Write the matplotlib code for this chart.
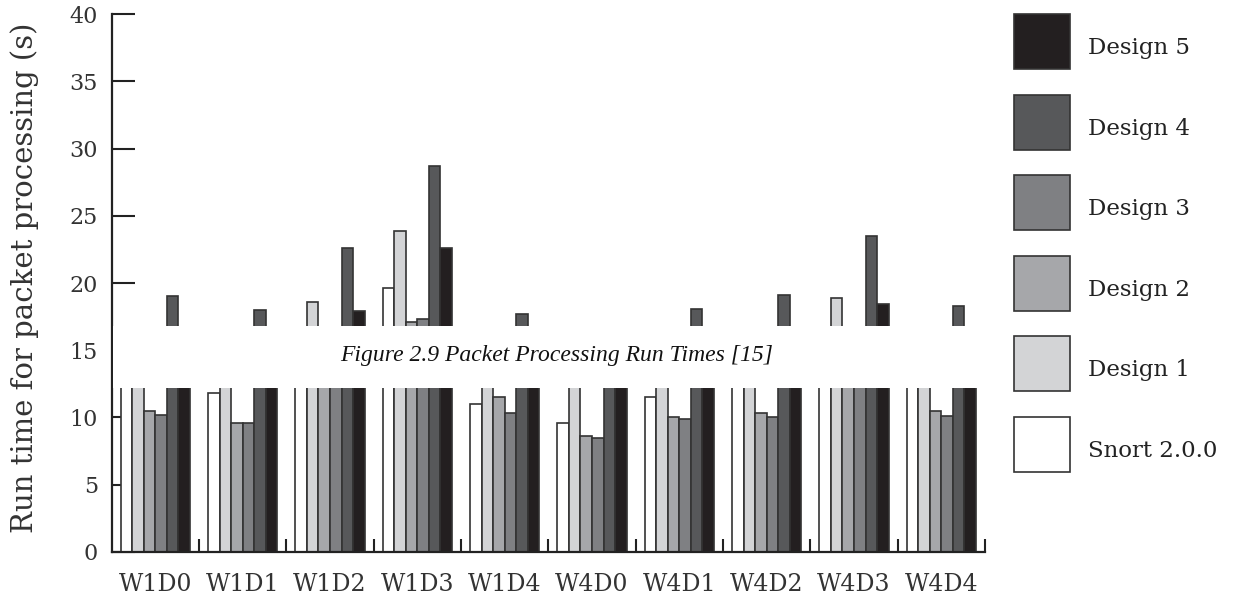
import matplotlib
matplotlib.use("Agg")
import matplotlib.pyplot as plt
from matplotlib.patches import Rectangle
import numpy as np

# data (values hidden under the caption band are estimates)
categories = ["W1D0", "W1D1", "W1D2", "W1D3", "W1D4",
              "W4D0", "W4D1", "W4D2", "W4D3", "W4D4"]
series_names = ["Snort 2.0.0", "Design 1", "Design 2", "Design 3", "Design 4", "Design 5"]
snort = [14.0, 11.8, 15.5, 19.6, 11.0, 9.6, 11.5, 14.5, 16.0, 13.5]
design1 = [15.0, 14.0, 18.6, 23.9, 14.5, 13.0, 14.5, 16.0, 18.9, 15.0]
design2 = [10.5, 9.6, 15.0, 17.1, 11.5, 8.6, 10.0, 10.3, 16.0, 10.5]
design3 = [10.2, 9.6, 15.5, 17.3, 10.3, 8.5, 9.9, 10.0, 16.3, 10.1]
design4 = [19.0, 18.0, 22.6, 28.7, 17.7, 14.0, 18.1, 19.1, 23.5, 18.3]
design5 = [15.5, 14.5, 17.9, 22.6, 15.0, 14.5, 15.5, 16.0, 18.4, 15.5]
series = [snort, design1, design2, design3, design4, design5]
colors = ["#ffffff", "#d3d4d6", "#a6a7aa", "#7f8083", "#57585a", "#231f20"]
edge = "#333333"

W, H = 1234, 598
fig = plt.figure(figsize=(W / 100, H / 100), dpi=100)
ax = fig.add_axes([111.7 / W, 1 - 551.7 / H, (985 - 111.7) / W, (551.7 - 14.3) / H])

x = np.arange(len(categories))
bw = 0.1323
for j, vals in enumerate(series):
    ax.bar(x + (j - 2.5) * bw, vals, width=bw, color=colors[j],
           edgecolor=edge, linewidth=1.2, zorder=2)

ax.set_xlim(-0.5, len(categories) - 0.5)
ax.set_ylim(0, 40)
ax.set_axisbelow(True)

for s in ["top", "right"]:
    ax.spines[s].set_visible(False)
for s in ["left", "bottom"]:
    ax.spines[s].set_linewidth(1.6)
    ax.spines[s].set_color("#222222")

ax.set_yticks(range(0, 41, 5))
ax.set_yticklabels([str(v) for v in range(0, 41, 5)],
                   fontdict={"family": "DejaVu Serif", "size": 16}, color="#333333")
ax.tick_params(axis="y", direction="in", length=16.5, width=1.5, color="#222222", pad=10)

ax.set_xticks(x + 0.5)
ax.set_xticklabels([])
ax.tick_params(axis="x", which="major", direction="in", length=9.5, width=1.5, color="#222222")
ax.set_xticks(x, minor=True)
ax.set_xticklabels(categories, minor=True, fontdict={"family": "DejaVu Serif", "size": 17},
                   color="#333333")
ax.tick_params(axis="x", which="minor", length=0, pad=15)

ax.set_ylabel("Run time for packet processing (s)", family="DejaVu Serif", fontsize=21,
              color="#333333")
ax.yaxis.set_label_coords(-0.0835, 0.509)

# legend drawn by hand to match the tall square swatches
for k, name in enumerate(series_names[::-1]):
    top = 14.3 + k * 80.5
    fig.add_artist(Rectangle((1014 / W, 1 - (top + 55) / H), 56 / W, 55 / H,
                             transform=fig.transFigure, facecolor=colors[5 - k],
                             edgecolor=edge, linewidth=1.2))
    fig.text(1088 / W, 1 - (top + 34) / H, name, family="DejaVu Serif", fontsize=16.5,
             color="#222222", va="center", ha="left")

# white caption band laid over the plot
fig.add_artist(Rectangle((112.5 / W, 1 - 388 / H), (1010 - 112.5) / W, 62 / H,
                         transform=fig.transFigure, facecolor="white",
                         edgecolor="none", zorder=10))
fig.text(557 / W, 1 - 356 / H, "Figure 2.9 Packet Processing Run Times [15]",
         family="Liberation Serif", style="italic", fontsize=17, color="#111111",
         ha="center", va="center", zorder=11)

fig.savefig("out.png", dpi=100)
